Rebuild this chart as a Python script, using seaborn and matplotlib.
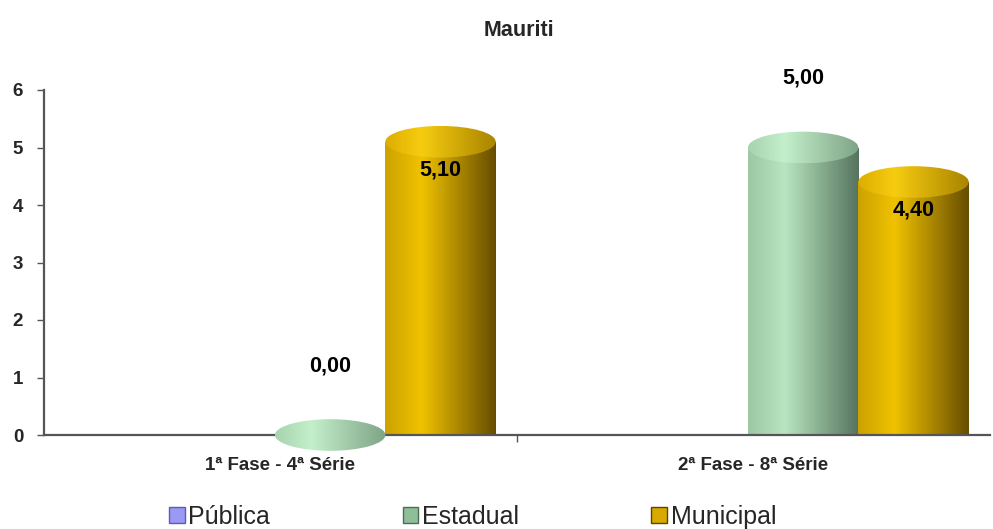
import numpy as np
import pandas as pd
import matplotlib
matplotlib.use("Agg")
import matplotlib.pyplot as plt
import seaborn as sns
from matplotlib.colors import LinearSegmentedColormap, to_rgb
from matplotlib.patches import Ellipse, Patch

# ---- data -------------------------------------------------------------
categories = ["1ª Fase - 4ª Série", "2ª Fase - 8ª Série"]
series = ["Pública", "Estadual", "Municipal"]
publica = [np.nan, np.nan]
estadual = [0.00, 5.00]
municipal = [5.10, 4.40]
y_ticks = [0, 1, 2, 3, 4, 5, 6]
title = "Mauriti"

df = pd.DataFrame({
    "categoria": categories,
    "Pública": publica,
    "Estadual": estadual,
    "Municipal": municipal,
})
long_df = df.melt(id_vars="categoria", var_name="rede", value_name="nota")

# ---- colours ----------------------------------------------------------
base = {"Pública": "#8c8cf0", "Estadual": "#93c49c", "Municipal": "#d2a500"}
# left edge, highlight, right (shadow) edge of the cylinder body
body_shades = {
    "Pública": ["#7b7bd6", "#a9a9ff", "#4a4a90"],
    "Estadual": ["#9cc8a4", "#b8e6c0", "#56735e"],
    "Municipal": ["#cda200", "#f0c200", "#664d00"],
}
cap_shades = {
    "Pública": ["#9a9ae8", "#c0c0ff", "#6a6ab0"],
    "Estadual": ["#a6d4ae", "#c4efcb", "#7ea486"],
    "Municipal": ["#dcae00", "#f6cc10", "#a98400"],
}
legend_face = {"Pública": "#9a9af4", "Estadual": "#8fbf98", "Municipal": "#d8aa00"}
legend_edges = {"Pública": "#5c5cb0", "Estadual": "#4d6b55", "Municipal": "#5a4500"}

sns.set_theme(style="white")
plt.rcParams["font.family"] = ["Liberation Sans", "DejaVu Sans"]

W, H = 993, 529
fig = plt.figure(figsize=(W / 100, H / 100), dpi=100)
ax = fig.add_axes([44 / W, 94 / H, 946 / W, 345 / H])

bar_width = 0.70
sns.barplot(
    data=long_df, x="categoria", y="nota", hue="rede",
    order=categories, hue_order=series, palette=base,
    width=bar_width, errorbar=None, legend=False, saturation=1, ax=ax,
)

# ---- cylinder styling -------------------------------------------------
cap_h = 0.55
grad = np.linspace(0, 1, 256).reshape(1, -1)


def series_of(patch):
    fc = np.array(patch.get_facecolor()[:3])
    return min(series, key=lambda s: np.sum((np.array(to_rgb(base[s])) - fc) ** 2))


def shade_map(stops):
    return LinearSegmentedColormap.from_list(
        "shade", [(0.0, stops[0]), (0.33, stops[1]), (1.0, stops[2])]
    )


for bar in list(ax.patches):
    h = bar.get_height()
    if h is None or np.isnan(h):
        continue
    name = series_of(bar)
    x0, w = bar.get_x(), bar.get_width()
    cx = x0 + w / 2
    bar.set_edgecolor("none")
    bar.set_facecolor("none")

    if h > 0:
        body = ax.imshow(grad, cmap=shade_map(body_shades[name]),
                         extent=[x0, x0 + w, 0, h], aspect="auto",
                         interpolation="bilinear", zorder=2)
        body.set_clip_path(bar)

    cap = Ellipse((cx, h), w, cap_h, facecolor="none", edgecolor="none",
                  zorder=3, clip_on=False)
    ax.add_patch(cap)
    top = ax.imshow(grad, cmap=shade_map(cap_shades[name]),
                    extent=[x0, x0 + w, h - cap_h / 2, h + cap_h / 2],
                    aspect="auto", interpolation="bilinear", zorder=3)
    top.set_clip_box(fig.bbox)
    top.set_clip_path(cap)

    label = f"{h:.2f}".replace(".", ",")
    dy = 50 if name == "Estadual" else -20
    ax.annotate(label, (cx, h), xytext=(0, dy), textcoords="offset points",
                ha="center", va="center", fontsize=15.5, fontweight="bold",
                color="black", zorder=5, annotation_clip=False)

# ---- axes -------------------------------------------------------------
shift = 0.105
ax.set_xlim(-0.5 - shift, 1.5 - shift)
ax.set_ylim(0, 6)
ax.set_xticks(np.arange(len(categories)) - shift, categories)
ax.set_xticks([0.5 - shift], minor=True)
ax.set_yticks(y_ticks)
ax.set_xlabel("")
ax.set_ylabel("")

for side in ("top", "right"):
    ax.spines[side].set_visible(False)
for side in ("left", "bottom"):
    ax.spines[side].set_color("#555555")
    ax.spines[side].set_linewidth(1.6)

ax.tick_params(axis="x", which="major", length=0, pad=16, labelsize=13.5)
ax.tick_params(axis="x", which="minor", bottom=True, length=5, width=1, color="#555555")
ax.tick_params(axis="y", left=True, length=5, width=1, color="#555555", pad=10, labelsize=13.5)
for lbl in ax.get_xticklabels() + ax.get_yticklabels():
    lbl.set_fontweight("bold")

fig.text(0.523, 1 - 30 / H, title, ha="center", va="center",
         fontsize=15.5, fontweight="bold")

handles = [Patch(facecolor=legend_face[s], edgecolor=legend_edges[s], linewidth=1)
           for s in series]
fig.legend(handles, series, loc="center", bbox_to_anchor=(0.476, 1 - 517 / H),
           ncol=3, frameon=False, fontsize=18, handlelength=0.62, handleheight=0.62,
           handletextpad=0.15, columnspacing=5.3, borderpad=0.1)

fig.savefig("out.png", dpi=100)
